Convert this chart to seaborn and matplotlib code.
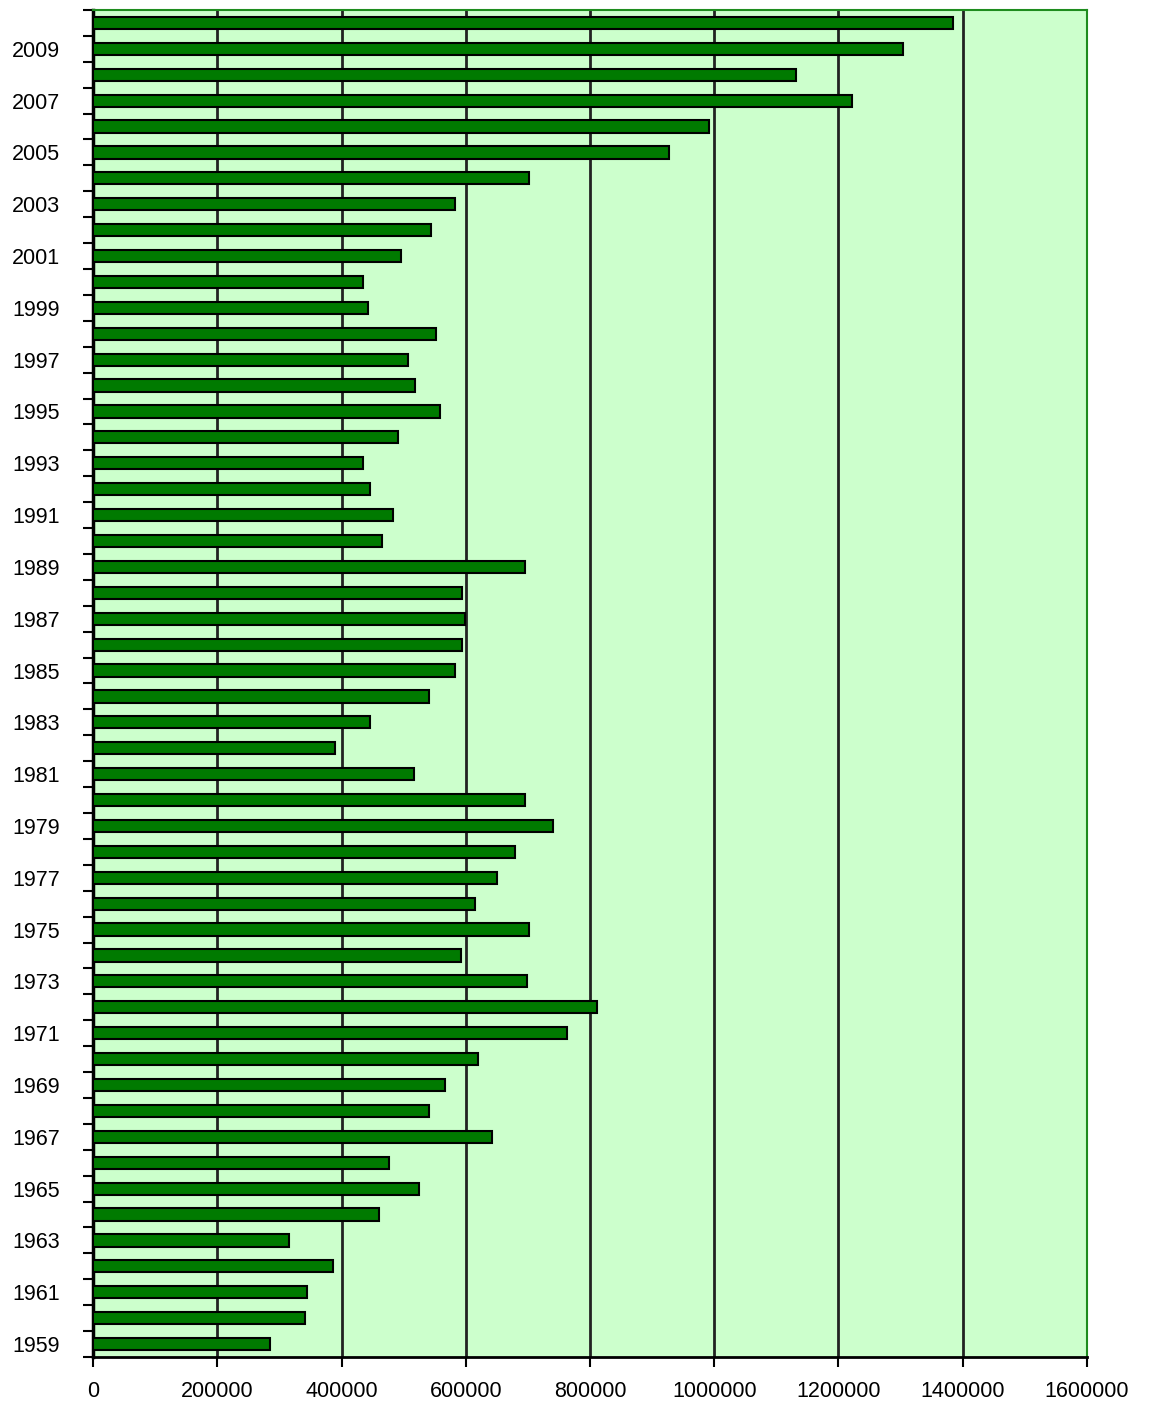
import pandas as pd
import matplotlib.pyplot as plt
import seaborn as sns

# years from top (2010) to bottom (1959)
years = list(range(2010, 1958, -1))
values = [1384000, 1304000, 1132000, 1222000, 991000, 927000, 702000, 583000, 544000, 496000,
          435000, 443000, 552000, 507000, 518000, 559000, 491000, 435000, 446000, 483000,
          465000, 695000, 594000, 599000, 594000, 583000, 541000, 446000, 390000, 517000,
          695000, 740000, 679000, 650000, 615000, 702000, 592000, 699000, 811000, 763000,
          620000, 567000, 541000, 642000, 477000, 525000, 460000, 316000, 386000, 345000,
          341000, 285000]
x_ticks = [0, 200000, 400000, 600000, 800000, 1000000, 1200000, 1400000, 1600000]

data = pd.DataFrame({"year": [str(y) for y in years], "value": values})

plt.rcParams['font.family'] = ['Liberation Sans', 'DejaVu Sans']

fig = plt.figure(figsize=(11.49, 14.01), dpi=100)
ax = fig.add_axes([0.081, 0.0314, 0.865, 0.9615])
ax.set_facecolor("#CCFFCC")

sns.barplot(data=data, y="year", x="value", orient="h", color="#007A00",
            width=0.47, edgecolor="black", linewidth=1.5, saturation=1, ax=ax, zorder=3)

ax.set_xlim(0, 1600000)
ax.set_ylim(len(years) - 0.5, -0.5)
ax.set_xticks(x_ticks)
ax.set_xticklabels([str(t) for t in x_ticks], fontsize=15.5)
for t in x_ticks[1:-1]:
    ax.axvline(t, color="#222222", linewidth=2, zorder=1)

# label every odd year, ticks at category boundaries
pos = [i for i, y in enumerate(years) if y % 2 == 1]
ax.set_yticks(pos)
ax.set_yticklabels([str(years[i]) for i in pos], fontsize=15.5)
ax.tick_params(axis="y", length=0, pad=24)
ax.set_yticks([i + 0.5 for i in range(-1, len(years))], minor=True)
ax.tick_params(axis="y", which="minor", length=7, width=1.5, color="black")
ax.tick_params(axis="x", length=7, width=1.5, color="black", pad=10)

for s in ax.spines.values():
    s.set_color("#1E8C1E")
    s.set_linewidth(1.5)
ax.spines["left"].set_color("black")
ax.spines["left"].set_linewidth(2.5)
ax.spines["bottom"].set_color("black")
ax.spines["bottom"].set_linewidth(2)

ax.set_xlabel("")
ax.set_ylabel("")

fig.savefig("out.png", dpi=100)
